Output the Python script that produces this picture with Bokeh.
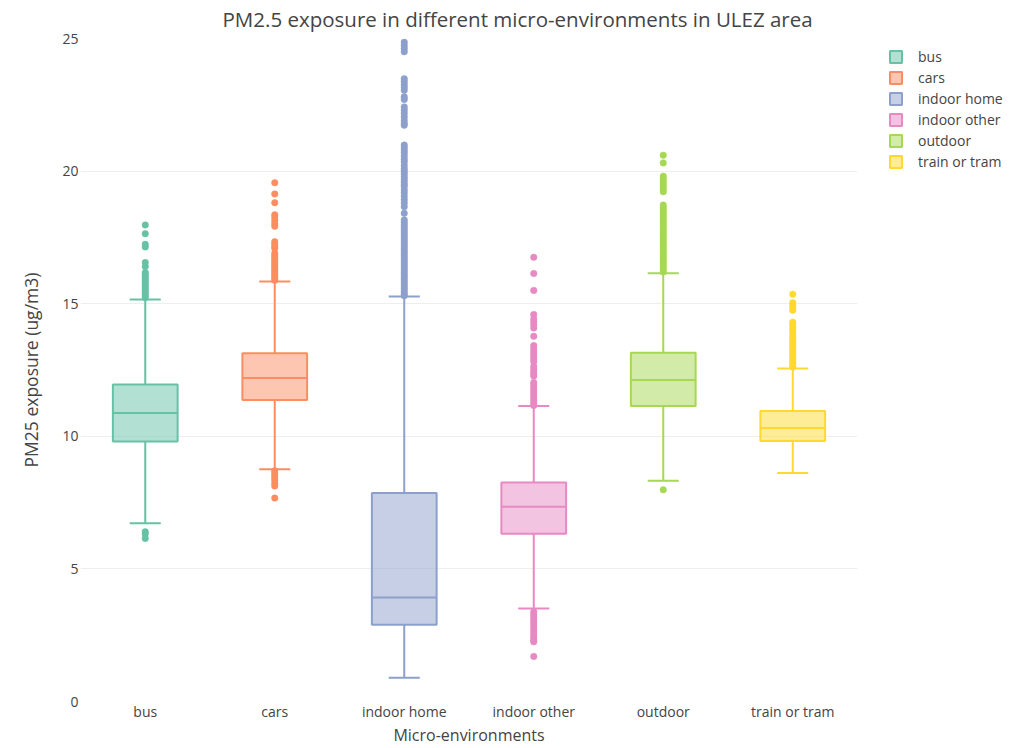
from bokeh.plotting import figure
from bokeh.layouts import row
from bokeh.models import (ColumnDataSource, FixedTicker, Legend, LegendItem,
                          Range1d, FactorRange)
from bokeh.embed import file_html
from bokeh.resources import INLINE

categories = ["bus", "cars", "indoor home", "indoor other", "outdoor", "train or tram"]
colors = ["#66c2a5", "#fc8d62", "#8da0cb", "#e78ac3", "#a6d854", "#ffd92f"]

q1 = [9.80, 11.37, 2.89, 6.33, 11.14, 9.82]
median = [10.88, 12.20, 3.92, 7.34, 12.12, 10.31]
q3 = [11.95, 13.13, 7.86, 8.26, 13.15, 10.95]
lower_fence = [6.72, 8.76, 0.90, 3.51, 8.32, 8.62]
upper_fence = [15.16, 15.84, 15.27, 11.14, 16.15, 12.56]

bus_outliers = [17.97, 17.64, 17.24, 17.14, 16.55, 16.40, 16.18, 16.10, 16.02, 15.94,
                15.86, 15.78, 15.70, 15.62, 15.54, 15.46, 15.38, 15.30, 15.22,
                6.40, 6.32, 6.15]
cars_outliers = [19.56, 19.14, 18.81, 18.35, 18.26, 18.14, 18.02, 17.92, 17.34, 17.25,
                 17.16, 17.09, 16.90, 16.82, 16.74, 16.66, 16.58, 16.50, 16.42, 16.34,
                 16.26, 16.18, 16.10, 16.02, 15.94, 15.88,
                 8.70, 8.62, 8.52, 8.43, 8.33, 8.22, 8.13, 7.67]
indoor_home_outliers = [24.86, 24.74, 24.62, 24.50, 23.48, 23.38, 23.27, 23.16, 23.05,
                        22.80, 22.70, 22.42, 22.30, 22.18, 22.05, 21.92, 21.80, 21.73,
                        20.98, 20.88, 20.78, 20.68, 20.57, 20.45, 20.35, 20.22, 20.10,
                        20.00, 19.90, 19.80, 19.70, 19.60, 19.50, 19.42, 19.29, 19.18,
                        19.05, 18.92, 18.80, 18.66, 18.41, 18.16, 18.07, 17.98, 17.89,
                        17.80, 17.71, 17.62, 17.53, 17.44, 17.35, 17.26, 17.17, 17.08,
                        16.99, 16.90, 16.81, 16.72, 16.63, 16.54, 16.45, 16.36, 16.27,
                        16.18, 16.09, 16.00, 15.91, 15.82, 15.73, 15.64, 15.55, 15.46,
                        15.37, 15.30]
indoor_other_outliers = [16.75, 16.14, 15.50, 14.59, 14.42, 14.32, 14.21, 14.08, 13.77,
                         13.42, 13.32, 13.22, 13.12, 13.02, 12.92, 12.82, 12.64, 12.54,
                         12.44, 12.34, 12.27, 12.03, 11.93, 11.83, 11.73, 11.63, 11.53,
                         11.43, 11.33, 11.23, 11.16,
                         3.38, 3.28, 3.18, 3.08, 2.98, 2.88, 2.78, 2.68, 2.58, 2.48,
                         2.38, 2.30, 2.25, 1.70]
outdoor_outliers = [20.60, 20.31, 19.81, 19.71, 19.61, 19.51, 19.41, 19.31, 19.22,
                    18.72, 18.63, 18.54, 18.45, 18.36, 18.27, 18.18, 18.09, 18.00,
                    17.91, 17.82, 17.73, 17.64, 17.55, 17.46, 17.37, 17.28, 17.19,
                    17.10, 17.01, 16.92, 16.83, 16.74, 16.65, 16.56, 16.47, 16.38,
                    16.29, 16.20, 7.98]
train_outliers = [15.36, 15.04, 14.95, 14.85, 14.75, 14.30, 14.20, 14.10, 14.00, 13.90,
                  13.77, 13.68, 13.59, 13.50, 13.41, 13.32, 13.23, 13.14, 13.05,
                  12.96, 12.87, 12.78, 12.69, 12.61]

outlier_lists = [bus_outliers, cars_outliers, indoor_home_outliers,
                 indoor_other_outliers, outdoor_outliers, train_outliers]

title_text = "PM2.5 exposure in different micro-environments in ULEZ area"
x_title = "Micro-environments"
y_title = "PM25 exposure (ug/m3)"

TXT = "#444444"
FONT = "Open Sans"

p = figure(x_range=FactorRange(*categories, range_padding=0),
           y_range=Range1d(0, 25),
           width=866, height=748,
           output_backend="svg", toolbar_location=None,
           min_border_left=80, min_border_right=9,
           min_border_top=38, min_border_bottom=45,
           background_fill_color="white", border_fill_color="white")
p.outline_line_color = None

p.title.text = title_text
p.title.align = "left"
p.title.offset = 142
p.title.vertical_align = "top"
p.title.text_font = FONT
p.title.text_font_size = "20.5px"
p.title.text_font_style = "normal"
p.title.text_color = TXT
p.title.standoff = 7

box_src = ColumnDataSource(dict(cat=categories, q1=q1, med=median, q3=q3,
                                lo=lower_fence, hi=upper_fence, color=colors))

# whiskers
p.segment(x0="cat", y0="q3", x1="cat", y1="hi", source=box_src, line_color="color", line_width=2)
p.segment(x0="cat", y0="q1", x1="cat", y1="lo", source=box_src, line_color="color", line_width=2)
# caps
p.vbar(x="cat", top="hi", bottom="hi", width=0.24, source=box_src, fill_alpha=0,
       line_color="color", line_width=2)
p.vbar(x="cat", top="lo", bottom="lo", width=0.24, source=box_src, fill_alpha=0,
       line_color="color", line_width=2)
# boxes
p.vbar(x="cat", top="q3", bottom="q1", width=0.5, source=box_src,
       fill_color="color", fill_alpha=0.5, line_color="color", line_width=2)
# medians
p.vbar(x="cat", top="med", bottom="med", width=0.5, source=box_src, fill_alpha=0,
       line_color="color", line_width=2)

# outliers
ox, oy, oc = [], [], []
for cat, col, vals in zip(categories, colors, outlier_lists):
    for v in vals:
        ox.append(cat)
        oy.append(v)
        oc.append(col)
p.scatter(x=ox, y=oy, size=6.5, fill_color=oc, line_color=oc, line_width=0.5)

p.xgrid.grid_line_color = None
p.ygrid.ticker = FixedTicker(ticks=[5, 10, 15, 20])
p.ygrid.grid_line_color = "#eeeeee"
p.ygrid.grid_line_width = 1

for ax in (p.xaxis[0], p.yaxis[0]):
    ax.axis_line_color = None
    ax.major_tick_line_color = None
    ax.minor_tick_line_color = None
    ax.major_tick_out = 0
    ax.major_tick_in = 0
    ax.major_label_text_font = FONT
    ax.major_label_text_font_size = "14px"
    ax.major_label_text_color = TXT
    ax.axis_label_text_font = FONT
    ax.axis_label_text_font_style = "normal"
    ax.axis_label_text_color = TXT

p.yaxis[0].ticker = FixedTicker(ticks=[0, 5, 10, 15, 20, 25])
p.yaxis[0].major_label_standoff = 2
p.yaxis[0].axis_label = y_title
p.yaxis[0].axis_label_text_font_size = "17.5px"
p.yaxis[0].axis_label_standoff = 16
p.xaxis[0].major_label_standoff = 0
p.xaxis[0].axis_label = x_title
p.xaxis[0].axis_label_text_font_size = "16px"
p.xaxis[0].axis_label_standoff = 0

# legend panel (separate figure to the right of the plot area; its frame aligns with p's)
lg = figure(width=159, height=748, x_range=Range1d(0, 1), y_range=Range1d(0, 1),
            output_backend="svg", toolbar_location=None,
            x_axis_type=None, y_axis_type=None, min_border=0,
            background_fill_color="white", border_fill_color="white")
lg.outline_line_color = None
lg.xgrid.grid_line_color = None
lg.ygrid.grid_line_color = None
n = len(categories)
nan = float("nan")
key_src = ColumnDataSource(dict(x=[nan] * n, color=colors,
                                top=[nan] * n, bottom=[nan] * n))
keys = lg.vbar(x="x", top="top", bottom="bottom", width=0.5, source=key_src,
               fill_color="color", fill_alpha=0.5, line_color="color", line_width=2)

items = [LegendItem(label=c, renderers=[keys], index=i) for i, c in enumerate(categories)]
legend = Legend(items=items, location=(22, 529), orientation="vertical")
legend.margin = 0
legend.padding = 0
legend.spacing = 0
legend.border_line_color = None
legend.background_fill_alpha = 0
legend.label_height = 21
legend.glyph_height = 15
legend.glyph_width = 15
legend.label_standoff = 15
legend.label_text_font = FONT
legend.label_text_font_size = "14px"
legend.label_text_color = TXT
lg.add_layout(legend, "center")

layout = row(p, lg, spacing=0)
open("out.html", "w").write(file_html(layout, INLINE))
